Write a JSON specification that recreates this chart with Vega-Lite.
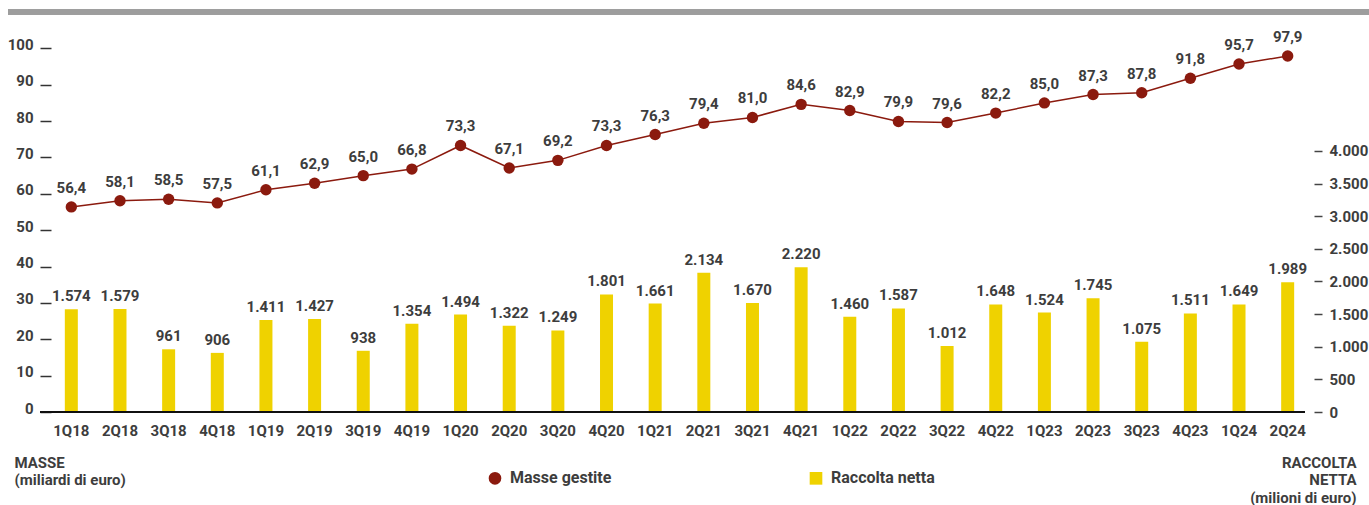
{
  "$schema": "https://vega.github.io/schema/vega-lite/v6.json",
  "width": 1265,
  "height": 400,
  "autosize": "none",
  "padding": {"left": 47, "top": 12, "right": 57, "bottom": 93},
  "background": "white",
  "config": {
    "locale": {"number": {"decimal": ",", "thousands": ".", "grouping": [3], "currency": ["", " €"]}},
    "view": {"stroke": null},
    "font": "Roboto",
    "axis": {"labelFont": "Roboto", "labelFontSize": 15, "labelFontWeight": "bold", "labelColor": "#3d3d3d", "titleFont": "Roboto", "titleFontSize": 15, "titleFontWeight": "bold", "titleColor": "#3d3d3d", "grid": false},
    "legend": {"labelFont": "Roboto", "labelFontSize": 16, "labelFontWeight": "bold", "labelColor": "#3d3d3d"}
  },
  "data": {
    "values": [
      {"q": "1Q18", "masse": 56.4, "raccolta": 1574},
      {"q": "2Q18", "masse": 58.1, "raccolta": 1579},
      {"q": "3Q18", "masse": 58.5, "raccolta": 961},
      {"q": "4Q18", "masse": 57.5, "raccolta": 906},
      {"q": "1Q19", "masse": 61.1, "raccolta": 1411},
      {"q": "2Q19", "masse": 62.9, "raccolta": 1427},
      {"q": "3Q19", "masse": 65.0, "raccolta": 938},
      {"q": "4Q19", "masse": 66.8, "raccolta": 1354},
      {"q": "1Q20", "masse": 73.3, "raccolta": 1494},
      {"q": "2Q20", "masse": 67.1, "raccolta": 1322},
      {"q": "3Q20", "masse": 69.2, "raccolta": 1249},
      {"q": "4Q20", "masse": 73.3, "raccolta": 1801},
      {"q": "1Q21", "masse": 76.3, "raccolta": 1661},
      {"q": "2Q21", "masse": 79.4, "raccolta": 2134},
      {"q": "3Q21", "masse": 81.0, "raccolta": 1670},
      {"q": "4Q21", "masse": 84.6, "raccolta": 2220},
      {"q": "1Q22", "masse": 82.9, "raccolta": 1460},
      {"q": "2Q22", "masse": 79.9, "raccolta": 1587},
      {"q": "3Q22", "masse": 79.6, "raccolta": 1012},
      {"q": "4Q22", "masse": 82.2, "raccolta": 1648},
      {"q": "1Q23", "masse": 85.0, "raccolta": 1524},
      {"q": "2Q23", "masse": 87.3, "raccolta": 1745},
      {"q": "3Q23", "masse": 87.8, "raccolta": 1075},
      {"q": "4Q23", "masse": 91.8, "raccolta": 1511},
      {"q": "1Q24", "masse": 95.7, "raccolta": 1649},
      {"q": "2Q24", "masse": 97.9, "raccolta": 1989}
    ]
  },
  "layer": [
    {
      "encoding": {
        "x": {"field": "q", "type": "nominal", "sort": null, "scale": {"paddingInner": 0, "paddingOuter": 0},
          "axis": {"orient": "bottom", "title": null, "domain": false, "ticks": false, "labelPadding": 11, "labelAngle": 0}},
        "y": {"field": "raccolta", "type": "quantitative", "scale": {"domain": [0, 6130], "nice": false},
          "axis": {"orient": "right", "values": [0, 500, 1000, 1500, 2000, 2500, 3000, 3500, 4000], "format": ",.0f", "domain": false, "offset": 2, "tickSize": 8, "tickColor": "#444", "tickWidth": 1.5, "labelPadding": 7,
            "title": ["RACCOLTA", "NETTA", "(milioni di euro)"], "titleAngle": 0, "titleAlign": "right", "titleBaseline": "top", "titleLineHeight": 17.5, "titleX": 42, "titleY": 443}}
      },
      "layer": [
        {"mark": {"type": "bar", "size": 13, "color": "#EFD200"}},
        {"mark": {"type": "text", "baseline": "alphabetic", "dy": -8, "fontSize": 15, "fontWeight": "bold", "color": "#3d3d3d"},
          "encoding": {"text": {"field": "raccolta", "type": "quantitative", "format": ",.0f"}}}
      ]
    },
    {
      "encoding": {
        "x": {"field": "q", "type": "nominal", "sort": null, "scale": {"paddingInner": 0, "paddingOuter": 0}, "axis": null},
        "y": {"field": "masse", "type": "quantitative", "scale": {"domain": [0, 110], "nice": false},
          "axis": {"orient": "left", "values": [0, 10, 20, 30, 40, 50, 60, 70, 80, 90, 100], "domain": false, "offset": -4, "tickSize": 11, "tickColor": "#333", "tickWidth": 1.5, "labelPadding": 7, "labelOffset": -4,
            "title": ["MASSE", "(miliardi di euro)"], "titleAngle": 0, "titleAlign": "left", "titleBaseline": "top", "titleLineHeight": 17.5, "titleX": -37, "titleY": 443}}
      },
      "layer": [
        {"mark": {"type": "line", "color": "#8B1A0E", "strokeWidth": 1.5}},
        {"mark": {"type": "point", "filled": true, "size": 130, "color": "#8B1A0E", "opacity": 1}},
        {"mark": {"type": "text", "baseline": "alphabetic", "dy": -14, "fontSize": 15, "fontWeight": "bold", "color": "#3d3d3d"},
          "encoding": {"text": {"field": "masse", "type": "quantitative", "format": ".1f"}}}
      ]
    },
    {
      "mark": {"type": "rule", "color": "#9d9d9d", "strokeWidth": 5, "clip": false},
      "encoding": {
        "x": {"datum": -0.0308, "type": "quantitative", "scale": {"domain": [0, 1]}, "axis": null},
        "x2": {"datum": 1.0451},
        "y": {"datum": 1, "type": "quantitative", "scale": {"domain": [0, 1]}, "axis": null}
      }
    },
    {
      "mark": {"type": "rule", "color": "#111", "strokeWidth": 1.5, "clip": false},
      "encoding": {
        "x": {"datum": -0.0055, "type": "quantitative", "scale": {"domain": [0, 1]}, "axis": null},
        "x2": {"datum": 0.9945},
        "y": {"datum": 0, "type": "quantitative", "scale": {"domain": [0, 1]}, "axis": null}
      }
    },
    {
      "data": {"values": [{"serie": "Masse gestite"}, {"serie": "Raccolta netta"}]},
      "mark": {"type": "point", "filled": true, "opacity": 0},
      "encoding": {
        "color": {"field": "serie", "type": "nominal", "scale": {"range": ["#8B1A0E", "#EFD200"]},
          "legend": {"title": null, "orient": "none", "direction": "horizontal", "legendX": 440, "legendY": 458, "symbolSize": 160, "symbolOpacity": 1, "labelOffset": 7, "columnPadding": 194}},
        "shape": {"field": "serie", "type": "nominal", "scale": {"range": ["circle", "square"]},
          "legend": {"title": null, "orient": "none", "direction": "horizontal", "legendX": 440, "legendY": 458, "symbolSize": 160, "symbolOpacity": 1, "labelOffset": 7, "columnPadding": 194}}
      }
    }
  ],
  "resolve": {"scale": {"x": "independent", "y": "independent", "color": "independent", "shape": "independent"}}
}
